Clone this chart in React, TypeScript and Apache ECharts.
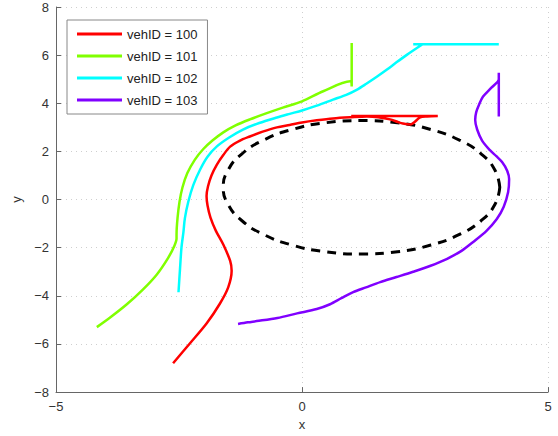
import React, { useEffect, useRef } from "react";
import * as echarts from "echarts";

const vehNames = ["vehID = 100", "vehID = 101", "vehID = 102", "vehID = 103"];

const veh100: [number, number][] = [
  [-2.62, -6.8], [-2.28, -5.98], [-1.94, -5.15], [-1.67, -4.33], [-1.5, -3.65], [-1.43, -2.96],
  [-1.46, -2.55], [-1.6, -1.87], [-1.75, -1.3], [-1.86, -0.75], [-1.92, -0.25], [-1.94, 0.15],
  [-1.91, 0.55], [-1.84, 1.0], [-1.73, 1.45], [-1.6, 1.85], [-1.46, 2.2], [-1.27, 2.44],
  [-1.06, 2.62], [-0.8, 2.82], [-0.51, 3.0], [-0.25, 3.1], [0, 3.2], [0.3, 3.29], [0.63, 3.37],
  [1.0, 3.42], [1.32, 3.45], [1.55, 3.42], [1.79, 3.33], [1.95, 3.22], [2.05, 3.16], [2.2, 3.12],
  [2.4, 3.41], [2.54, 3.45], [2.76, 3.47], [1.0, 3.47]
];

const veh101: [number, number][] = [
  [-4.17, -5.3], [-3.9, -4.9], [-3.56, -4.35], [-3.23, -3.73], [-2.95, -3.11], [-2.72, -2.42],
  [-2.6, -1.95], [-2.55, -1.62], [-2.55, -1.45], [-2.53, -0.77], [-2.49, -0.1], [-2.43, 0.5],
  [-2.33, 1.1], [-2.18, 1.65], [-2.01, 2.09], [-1.82, 2.45], [-1.6, 2.79], [-1.35, 3.08],
  [-1.06, 3.33], [-0.73, 3.58], [-0.39, 3.82], [0, 4.08], [0.43, 4.5], [0.98, 4.91],
  [1.01, 4.7], [1.01, 6.5]
];

const veh102: [number, number][] = [
  [-2.51, -3.85], [-2.48, -2.9], [-2.45, -2.0], [-2.41, -1.35], [-2.38, -0.77], [-2.31, -0.08],
  [-2.21, 0.6], [-2.07, 1.25], [-1.92, 1.78], [-1.73, 2.21], [-1.48, 2.58], [-1.2, 2.91],
  [-0.87, 3.18], [-0.51, 3.41], [-0.25, 3.56], [0, 3.7], [0.3, 3.9], [0.63, 4.15], [0.9, 4.35],
  [1.12, 4.57], [1.3, 4.8], [1.52, 5.1], [1.72, 5.39], [1.92, 5.7], [2.13, 6.01], [2.45, 6.45],
  [2.26, 6.45], [4.0, 6.45]
];

const veh103: [number, number][] = [
  [-1.3, -5.17], [-1.1, -5.1], [-0.92, -5.05], [-0.5, -4.92], [-0.1, -4.73], [0.3, -4.55],
  [0.57, -4.35], [0.8, -4.1], [1.04, -3.85], [1.3, -3.65], [1.59, -3.43], [1.92, -3.22],
  [2.26, -3.0], [2.6, -2.76], [2.95, -2.46], [3.25, -2.12], [3.48, -1.76], [3.75, -1.3],
  [3.96, -0.81], [4.1, -0.3], [4.19, 0.31], [4.21, 0.85], [4.17, 1.2], [4.07, 1.55],
  [3.95, 1.8], [3.82, 2.05], [3.66, 2.45], [3.56, 2.91], [3.52, 3.3], [3.54, 3.62],
  [3.6, 3.95], [3.68, 4.28], [3.85, 4.65], [4.0, 5.0], [4.0, 5.27], [4.0, 3.45]
];

const refPath: [number, number][] = [
  [4.02, 0.51], [3.92, 1.23], [3.64, 1.9], [3.2, 2.47], [2.62, 2.91], [1.94, 3.19],
  [1.21, 3.28], [0.48, 3.19], [-0.2, 2.91], [-0.78, 2.47], [-1.22, 1.9], [-1.5, 1.23],
  [-1.6, 0.51], [-1.5, -0.21], [-1.22, -0.88], [-0.78, -1.45], [-0.2, -1.89], [0.48, -2.17],
  [1.21, -2.26], [1.94, -2.17], [2.62, -1.89], [3.2, -1.45], [3.64, -0.88], [3.92, -0.21],
  [4.02, 0.51]
];

const vehColors = ["#ff0000", "#80ff00", "#00ffff", "#8000ff"];
const xTicks = [-5, 0, 5];
const yTicks = [-8, -6, -4, -2, 0, 2, 4, 6, 8];

export default function App() {
  const ref = useRef<HTMLDivElement>(null);
  useEffect(() => {
    if (!ref.current) return;
    const chart = echarts.init(ref.current, null, { renderer: "svg" });
    const font = "Liberation Sans, Arial, sans-serif";
    const vehData = [veh100, veh101, veh102, veh103];
    const minus = (v: number) => String(v).replace("-", "\u2212");
    chart.setOption({
      animation: false,
      textStyle: { fontFamily: font },
      grid: { left: 56, right: 10, top: 7, bottom: 40, containLabel: false },
      legend: {
        data: vehNames,
        orient: "vertical",
        left: 67,
        top: 20,
        itemWidth: 45,
        itemHeight: 3,
        itemGap: 8,
        icon: "rect",
        padding: [7, 10, 7, 10],
        backgroundColor: "#ffffff",
        borderColor: "#888888",
        borderWidth: 1,
        textStyle: { fontSize: 13, color: "#222", fontFamily: font, lineHeight: 14 },
      },
      xAxis: {
        type: "value",
        min: xTicks[0],
        max: xTicks[xTicks.length - 1],
        interval: 5,
        name: "x",
        nameLocation: "middle",
        nameGap: 25,
        nameTextStyle: { fontSize: 13, color: "#333" },
        axisLine: { show: true, onZero: false, lineStyle: { color: "#666", width: 1 } },
        axisTick: { show: true, inside: true, length: 5, lineStyle: { color: "#666" } },
        axisLabel: { fontSize: 13, color: "#333", margin: 8, formatter: minus },
        splitLine: { show: true, lineStyle: { color: "#cfcfcf", type: [1, 4], width: 1 } },
      },
      yAxis: {
        type: "value",
        min: yTicks[0],
        max: yTicks[yTicks.length - 1],
        interval: 2,
        name: "y",
        nameLocation: "middle",
        nameGap: 32,
        nameRotate: 90,
        nameTextStyle: { fontSize: 13, color: "#333" },
        axisLine: { show: true, onZero: false, lineStyle: { color: "#666", width: 1 } },
        axisTick: { show: true, inside: true, length: 5, lineStyle: { color: "#666" } },
        axisLabel: { fontSize: 13, color: "#333", margin: 7, formatter: minus },
        splitLine: { show: true, lineStyle: { color: "#cfcfcf", type: [1, 4], width: 1 } },
      },
      series: [
        {
          name: "reference",
          type: "line",
          data: refPath,
          smooth: 0.5,
          showSymbol: false,
          lineStyle: { color: "#000", width: 3, type: [9, 7] },
          z: 1,
        },
        ...vehData.map((d, i) => ({
          name: vehNames[i],
          type: "line",
          data: d,
          showSymbol: false,
          smooth: 0.3,
          color: vehColors[i],
          lineStyle: { color: vehColors[i], width: 2.5 },
          z: 2,
        })),
      ],
    });
    return () => chart.dispose();
  }, []);
  return <div ref={ref} style={{ width: 558, height: 436, position: "absolute", left: 0, top: 0 }} />;
}
